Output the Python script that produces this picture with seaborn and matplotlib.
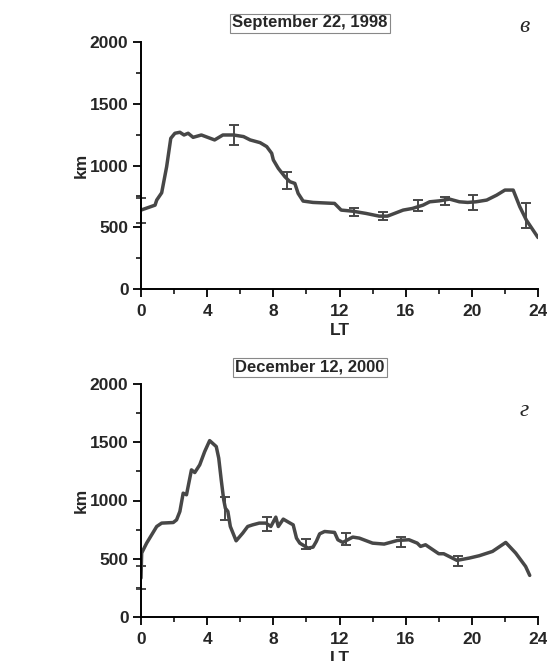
import numpy as np
import pandas as pd
import matplotlib
matplotlib.use("Agg")
import matplotlib.pyplot as plt
import seaborn as sns

# ---- Data: September 22, 1998 ----
sep_lt = [0.0, 0.85, 0.95, 1.25, 1.55, 1.8, 2.05, 2.35, 2.6, 2.85, 3.15, 3.65, 4.45, 4.95,
          5.6, 6.2, 6.6, 7.2, 7.6, 7.9, 8.0, 8.3, 8.7, 9.0, 9.3, 9.5, 9.8, 10.4, 11.7, 12.1,
          12.8, 13.6, 14.4, 14.9, 15.85, 16.4, 17.05, 17.45, 18.05, 18.65, 19.25, 19.75,
          20.25, 20.9, 21.5, 22.0, 22.5, 22.9, 23.3, 24.0]
sep_km = [639, 679, 720, 779, 990, 1220, 1261, 1269, 1247, 1261, 1228, 1247, 1207, 1247,
          1247, 1234, 1207, 1185, 1153, 1099, 1045, 977, 909, 869, 855, 774, 712, 701, 693, 639,
          630, 612, 590, 590, 639, 652, 679, 706, 714, 728, 706, 701,
          706, 720, 760, 801, 801, 666, 557, 417]
sep_err_lt = [0.0, 5.6, 8.8, 12.9, 14.6, 16.75, 18.4, 20.1, 23.25]
sep_err_km = [638, 1247, 875, 624, 591, 676, 713, 700, 594]
sep_err = [101, 82, 69, 34, 34, 43, 34, 61, 99]

# ---- Data: December 12, 2000 ----
dec_lt = [0.0, 0.04, 0.34, 0.95, 1.25, 1.95, 2.15, 2.35, 2.55, 2.75, 3.05, 3.25, 3.55, 3.85,
          4.15, 4.55, 4.7, 4.85, 5.0, 5.1, 5.25, 5.4, 5.75, 6.15, 6.45, 6.75, 7.15, 7.55, 7.85,
          8.15, 8.3, 8.6, 8.95, 9.2, 9.4, 9.6, 10.1, 10.4, 10.6, 10.8, 11.1, 11.7, 11.9, 12.2,
          12.8, 13.2, 14.0, 14.7, 15.5, 16.2, 16.7, 16.9, 17.2, 18.0, 18.3, 19.1, 19.85, 20.45,
          21.25, 22.05, 22.65, 23.25, 23.5]
dec_km = [334, 549, 634, 777, 806, 811, 834, 906, 1063, 1049, 1263, 1240, 1306, 1420,
          1514, 1463, 1363, 1177, 1006, 934, 906, 777, 654, 720, 777, 791, 806, 806, 777,
          857, 777, 840, 811, 791, 677, 634, 591, 600, 649, 714, 734, 726, 663, 640,
          686, 677, 634, 626, 657, 663, 634, 606, 620, 543, 543, 486, 506, 526,
          563, 640, 549, 434, 357]
dec_err_lt = [0.0, 5.1, 7.6, 10.0, 12.4, 15.7, 19.15]
dec_err_km = [340, 934, 799, 629, 670, 641, 480]
dec_err = [100, 100, 58, 43, 50, 44, 46]

titles = ["September 22, 1998", "December 12, 2000"]
letters = ["в", "г"]
x_ticks = [0, 4, 8, 12, 16, 20, 24]
y_ticks = [0, 500, 1000, 1500, 2000]

sns.set_style("ticks")
plt.rcParams['font.family'] = ['Liberation Sans', 'DejaVu Sans']

W, H = 547, 661
fig = plt.figure(figsize=(W / 100, H / 100), dpi=100)

line_color = "#474747"
panels = [
    (sep_lt, sep_km, sep_err_lt, sep_err_km, sep_err, (42, 289), 23, 27),
    (dec_lt, dec_km, dec_err_lt, dec_err_km, dec_err, (384, 617), 367, 411),
]
for i, (lt, km, elt, ekm, eer, (ytop, ybot), title_y, letter_y) in enumerate(panels):
    left = 141 / W
    width = (538 - 141) / W
    bottom = 1 - ybot / H
    height = (ybot - ytop) / H
    ax = fig.add_axes([left, bottom, width, height])
    df = pd.DataFrame({"LT": lt, "km": km})
    sns.lineplot(data=df, x="LT", y="km", ax=ax, color=line_color, lw=2.5,
                 estimator=None, sort=False)
    ax.errorbar(elt, ekm, yerr=eer, fmt="none", ecolor=line_color, elinewidth=1.4,
                capsize=3.8, capthick=1.4, clip_on=False)
    ax.set_xlim(0, 24)
    ax.set_ylim(0, 2000)
    ax.set_xticks(x_ticks)
    ax.set_yticks(y_ticks)
    ax.set_xticks(np.arange(2, 24, 4), minor=True)
    ax.set_yticks(np.arange(250, 2000, 500), minor=True)
    ax.tick_params(axis="both", which="major", length=6, width=1.3, color="black",
                   labelsize=12.5, pad=3)
    ax.tick_params(axis="x", which="major", pad=5)
    ax.tick_params(axis="both", which="minor", length=3.5, width=1.1, color="black")
    for lab in ax.get_xticklabels() + ax.get_yticklabels():
        lab.set_fontweight("bold")
    sns.despine(ax=ax)
    for s in ["left", "bottom"]:
        ax.spines[s].set_linewidth(1.4)
        ax.spines[s].set_color("black")
    ax.set_xlabel("LT", fontsize=12.5, fontweight="bold", labelpad=3)
    ax.set_ylabel("km", fontsize=12.5, fontweight="bold", labelpad=1)
    fig.text(310 / W, 1 - title_y / H, titles[i], ha="center", va="center",
             fontsize=12, fontweight="bold",
             bbox=dict(boxstyle="square,pad=0.12", fc="white", ec="#888888", lw=0.8))
    fig.text(524 / W, 1 - letter_y / H, letters[i], ha="center", va="center",
             fontsize=17, style="italic", family=["Liberation Serif", "DejaVu Serif"])

fig.savefig("out.png", dpi=100)
